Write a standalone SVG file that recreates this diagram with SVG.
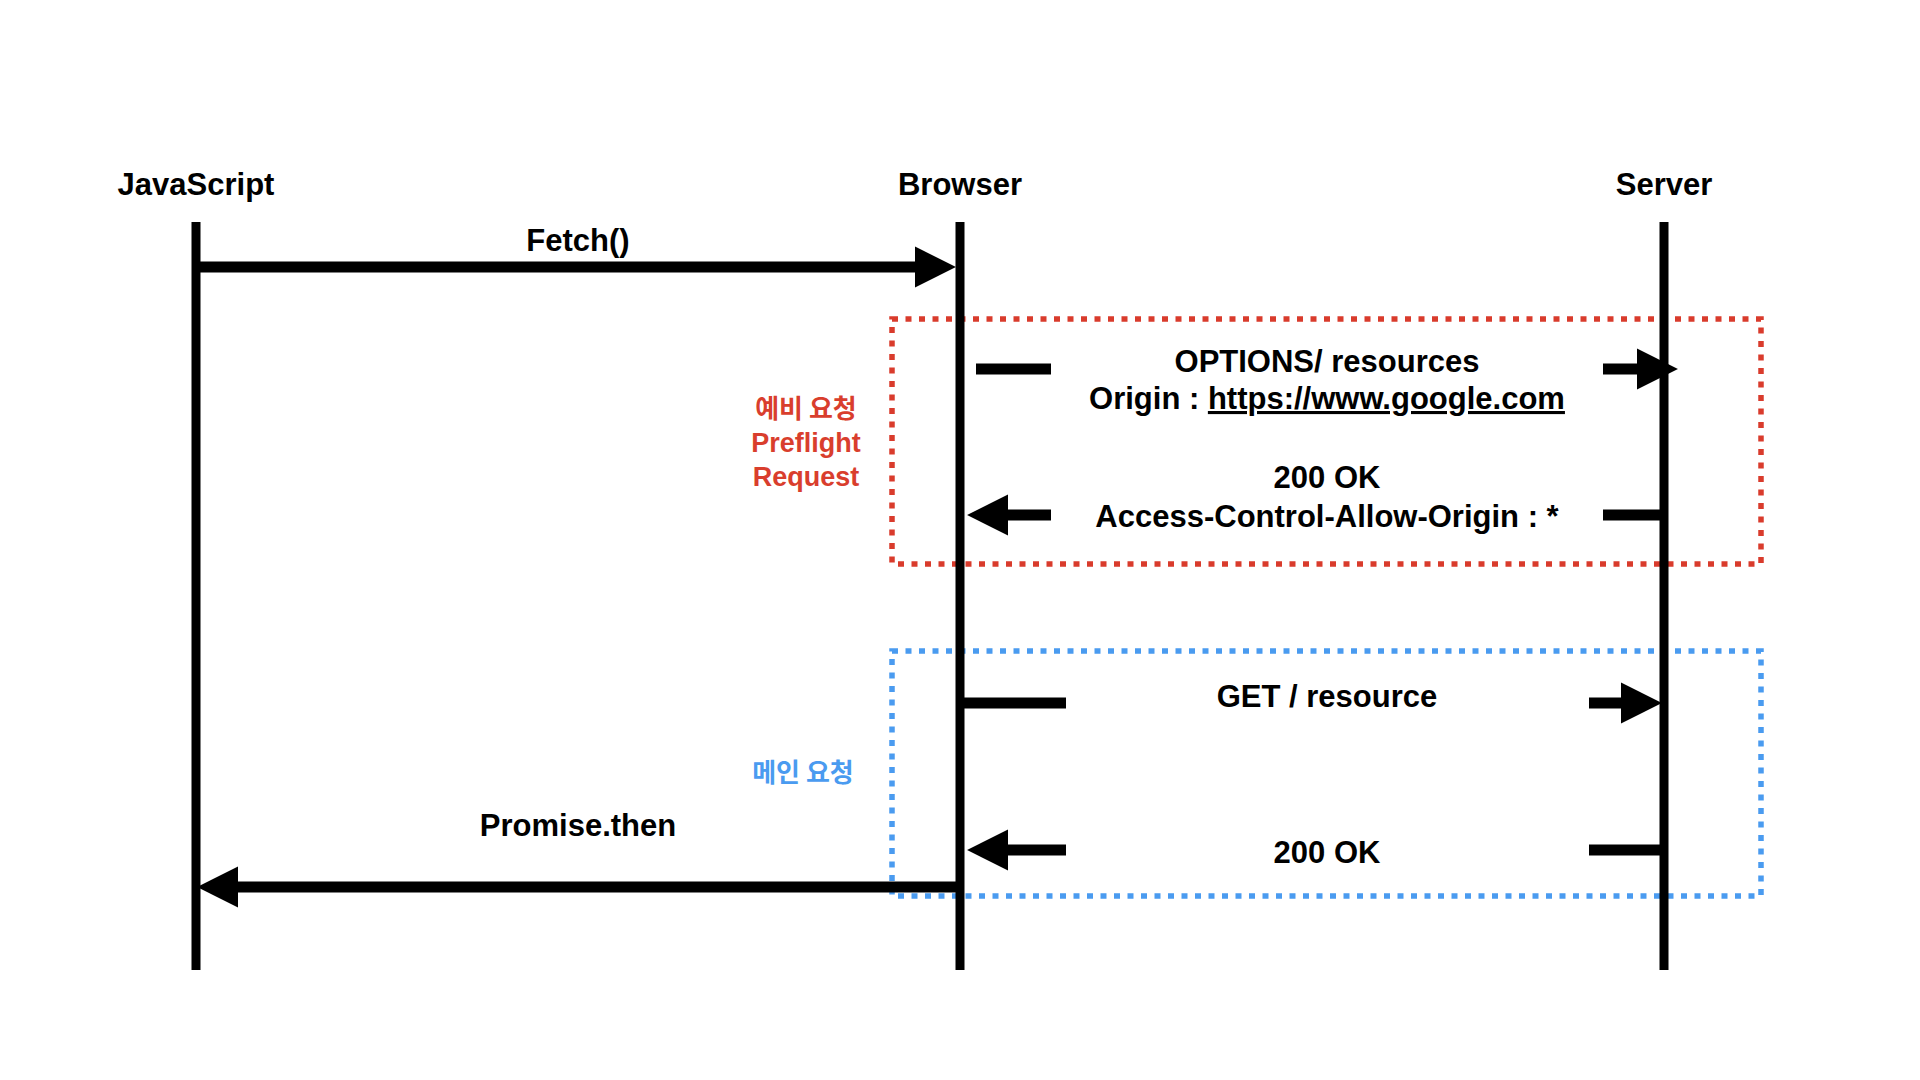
<svg xmlns="http://www.w3.org/2000/svg" width="1920" height="1080" viewBox="0 0 1920 1080">
  <style>
    .bg { fill: #ffffff; }
    .t { font-family: "Liberation Sans", "Noto Sans CJK KR", Arial, sans-serif; font-weight: bold; fill: #000000; text-anchor: middle; }
    .title { font-size: 31px; }
    .msg { font-size: 31px; }
    .red { fill: #D93E2D; font-size: 27px; }
    .blue { fill: #4A9BF0; font-size: 27px; }
    .ko { font-family: "Noto Sans CJK KR", "Liberation Sans", sans-serif; font-size: 26px; }
    .life { stroke: #000000; stroke-width: 9; fill: none; }
    .arr { stroke: #000000; stroke-width: 11; fill: none; }
    .arrh { stroke: #000000; stroke-width: 11; fill: none; marker-end: url(#head); }
    .boxr { fill: none; stroke: #D93B2C; stroke-width: 5.5; stroke-dasharray: 6 7.5; }
    .boxb { fill: none; stroke: #4A9BF0; stroke-width: 5.5; stroke-dasharray: 6 7.5; }
  </style>
  <defs>
    <marker id="head" markerUnits="userSpaceOnUse" markerWidth="42" markerHeight="42" viewBox="0 0 41 40" refX="1" refY="20" orient="auto">
      <path d="M0,0 L40,20 L0,40 Z" fill="#000000"/>
    </marker>
  </defs>
  <rect class="bg" x="0" y="0" width="1920" height="1080"/>

  <g id="preflight-group">
    <rect class="boxr" x="892" y="319" width="869" height="245"/>
    <text class="t red ko" x="806" y="418">예비 요청</text>
    <text class="t red" x="806" y="452">Preflight</text>
    <text class="t red" x="806" y="486">Request</text>
  </g>
  <g id="main-group">
    <rect class="boxb" x="892" y="651" width="869" height="245"/>
    <text class="t blue ko" x="803" y="782">메인 요청</text>
  </g>

  <g id="javascript">
    <text class="t title" x="196" y="195">JavaScript</text>
    <line class="life" x1="196" y1="222" x2="196" y2="970"/>
  </g>
  <g id="browser">
    <text class="t title" x="960" y="195">Browser</text>
    <line class="life" x1="960" y1="222" x2="960" y2="970"/>
  </g>
  <g id="server">
    <text class="t title" x="1664" y="195">Server</text>
    <line class="life" x1="1664" y1="222" x2="1664" y2="970"/>
  </g>

  <g id="connectors">
    <!-- Fetch() -->
    <line class="arrh" x1="200" y1="267" x2="916" y2="267"/>
    <text class="t msg" x="578" y="251">Fetch()</text>

    <!-- OPTIONS request -->
    <line class="arr" x1="976" y1="369" x2="1051" y2="369"/>
    <line class="arrh" x1="1603" y1="369" x2="1638" y2="369"/>
    <text class="t msg" x="1327" y="372">OPTIONS/ resources</text>
    <text class="t msg" x="1327" y="409">Origin : <tspan text-decoration="underline">https://www.google.com</tspan></text>

    <!-- Preflight response -->
    <line class="arrh" x1="1051" y1="515" x2="1007" y2="515"/>
    <line class="arr" x1="1603" y1="515" x2="1662" y2="515"/>
    <text class="t msg" x="1327" y="488">200 OK</text>
    <text class="t msg" x="1327" y="527">Access-Control-Allow-Origin : *</text>

    <!-- GET request -->
    <line class="arr" x1="960" y1="703" x2="1066" y2="703"/>
    <line class="arrh" x1="1589" y1="703" x2="1622" y2="703"/>
    <text class="t msg" x="1327" y="707">GET / resource</text>

    <!-- main response -->
    <line class="arrh" x1="1066" y1="850" x2="1007" y2="850"/>
    <line class="arr" x1="1589" y1="850" x2="1663" y2="850"/>
    <text class="t msg" x="1327" y="863">200 OK</text>

    <!-- Promise.then -->
    <line class="arrh" x1="960" y1="887" x2="237" y2="887"/>
    <text class="t msg" x="578" y="836">Promise.then</text>
  </g>
</svg>
